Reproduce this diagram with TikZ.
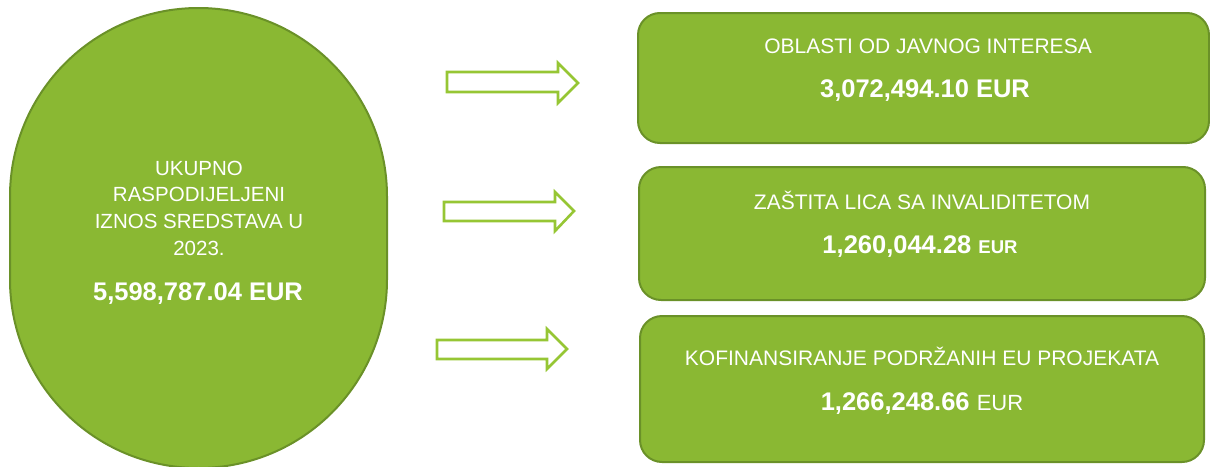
\documentclass[tikz,border=0pt]{standalone}
\usepackage{fontspec}
\setmainfont{Liberation Sans}
\definecolor{boxgreen}{RGB}{138,184,51}
\definecolor{boxedge}{RGB}{106,145,40}
\definecolor{arrowgreen}{RGB}{150,198,52}
\begin{document}
\begin{tikzpicture}[x=1pt,y=-1pt,
  greenbox/.style={draw=boxedge,line width=2pt,fill=boxgreen,rounded corners=22pt},
  blockarrow/.style={draw=arrowgreen,line width=2.6pt,fill=white,line join=miter},
  title/.style={text=white,font=\fontsize{21}{25}\selectfont,anchor=center},
  amount/.style={text=white,font=\fontsize{25.5}{30}\selectfont\bfseries,anchor=center},
  ovaltext/.style={text=white,font=\fontsize{20.5}{26.7}\selectfont,align=center,anchor=center}]
\useasboundingbox (0,0) rectangle (1210,466);
% oval
\draw[draw=boxedge,line width=2pt,fill=boxgreen]
  (10,279.5) -- (10,196.5) arc[start angle=180,end angle=360,radius=188.5]
  -- (387,279.5) arc[start angle=0,end angle=180,radius=188.5] -- cycle;
\node[ovaltext] (total) at (199,208) {UKUPNO\\RASPODIJELJENI\\IZNOS SREDSTAVA U\\2023.};
\node[amount] (totalval) at (198,294) {5,598,787.04 EUR};
% boxes
\draw[greenbox] (638,13) rectangle (1209,143);
\node[title] (t1) at (928,46) {OBLASTI OD JAVNOG INTERESA};
\node[amount] (v1) at (925,91) {3,072,494.10 EUR};
\draw[greenbox] (639,167) rectangle (1205,300);
\node[title] (t2) at (922,200) {ZAŠTITA LICA SA INVALIDITETOM};
\node[amount] (v2) at (920,247) {1,260,044.28 {\fontsize{18.5}{22}\selectfont EUR}};
\draw[greenbox] (640,316) rectangle (1204,462);
\node[title] (t3) at (922,356) {KOFINANSIRANJE PODRŽANIH EU PROJEKATA};
\node[amount] (v3) at (922,404) {1,266,248.66 {\mdseries\fontsize{22}{26}\selectfont EUR}};
% block arrows
\draw[blockarrow] (447,72) -- (558,72) -- (558,63) -- (578,83) -- (558,103) -- (558,92) -- (447,92) -- cycle;
\draw[blockarrow] (444,202) -- (555,202) -- (555,192) -- (574,211) -- (555,231) -- (555,221) -- (444,221) -- cycle;
\draw[blockarrow] (437,340) -- (547,340) -- (547,329) -- (567,349) -- (547,369) -- (547,359) -- (437,359) -- cycle;
\end{tikzpicture}
\end{document}
